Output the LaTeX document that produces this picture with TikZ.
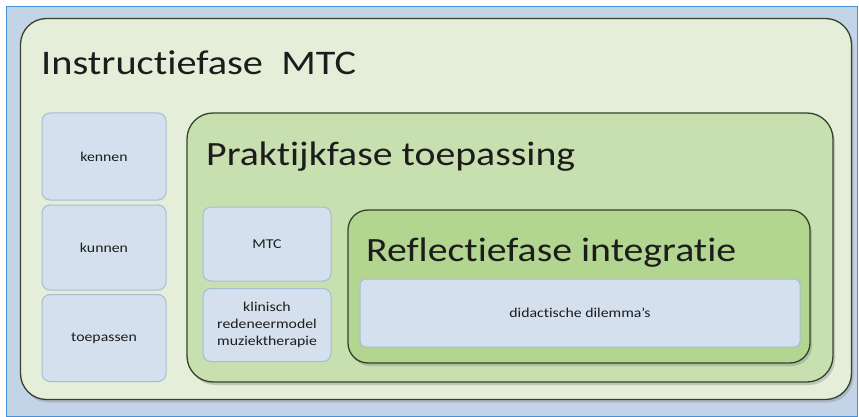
\documentclass[tikz,border=0pt]{standalone}
\usepackage{fontspec}
\setmainfont[FakeStretch=1.17, Ligatures=NoCommon]{Carlito}
\usetikzlibrary{shadows}
\definecolor{frameblue}{HTML}{4A90D6}
\definecolor{framefill}{HTML}{C4D4E8}
\definecolor{outerfill}{HTML}{E5EED9}
\definecolor{praktfill}{HTML}{C8DFB0}
\definecolor{reflfill}{HTML}{B2D58F}
\definecolor{smallfill}{HTML}{D4E0EE}
\definecolor{smallborder}{HTML}{A6BDD3}
\definecolor{darkline}{HTML}{34432E}
\definecolor{txt}{HTML}{1C1C1C}
\tikzset{
  container/.style={rectangle, draw=darkline, line width=1.3pt, inner sep=0pt,
    drop shadow={opacity=0.35, shadow xshift=2pt, shadow yshift=-3pt}},
  smallbox/.style={rectangle, rounded corners=8pt, draw=smallborder, line width=1pt,
    fill=smallfill, inner sep=0pt, align=center, font=\fontsize{13.5}{17}\selectfont, text=txt},
  titletext/.style={anchor=base west, inner sep=0pt, text=txt}
}
\begin{document}
\begin{tikzpicture}[x=1pt,y=-1pt]
\useasboundingbox (0,0) rectangle (859,417);
\fill[white] (0,0) rectangle (859,417);
% frame
\node[rectangle, draw=frameblue, line width=1pt, fill=framefill, inner sep=0pt,
  minimum width=851pt, minimum height=409pt] (frame) at (431.5,211.5) {};
% outer container
\node[container, rounded corners=26pt, fill=outerfill,
  minimum width=831pt, minimum height=381pt] (outer) at (436,209) {};
\node[titletext, font=\fontsize{34.5}{40}\selectfont] (ttl1) at (41,75) {Instructiefase\ \ MTC};
% left boxes
\node[smallbox, minimum width=124pt, minimum height=87pt] (kennen) at (104,156.5) {kennen};
\node[smallbox, minimum width=124pt, minimum height=85pt] (kunnen) at (104,247.5) {kunnen};
\node[smallbox, minimum width=124pt, minimum height=87pt] (toepassen) at (104,338) {toepassen};
% praktijk container
\node[container, rounded corners=26pt, fill=praktfill,
  minimum width=646pt, minimum height=269pt] (prakt) at (510,247.5) {};
\node[titletext, font=\fontsize{34}{38}\selectfont] (ttl2) at (206,165) {Praktijkfase toepassing};
\node[smallbox, minimum width=128pt, minimum height=74pt] (mtc) at (267,244) {MTC};
\node[smallbox, minimum width=128pt, minimum height=73pt] (klin) at (267,325) {klinisch\\redeneermodel\\muziektherapie};
% reflectie container
\node[container, rounded corners=20pt, fill=reflfill,
  minimum width=462pt, minimum height=153pt] (refl) at (579,286.5) {};
\node[titletext, font=\fontsize{34}{38}\selectfont] (ttl3) at (366,261) {Reflectiefase integratie};
\node[smallbox, rounded corners=6pt, minimum width=440pt, minimum height=68pt] (dil) at (580,313) {didactische dilemma's};
\end{tikzpicture}
\end{document}
